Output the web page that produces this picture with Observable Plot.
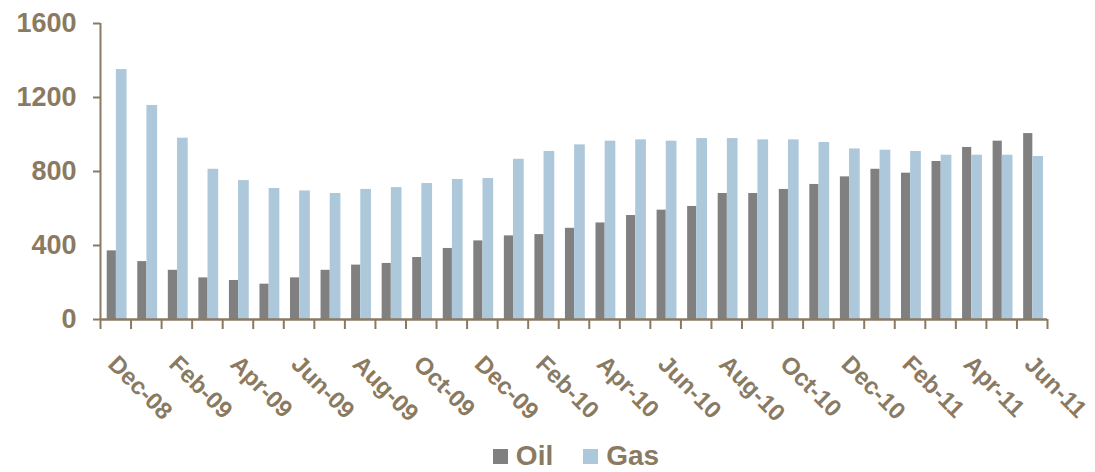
<!DOCTYPE html>
<html>
<head>
<meta charset="utf-8">
<script src="https://cdn.jsdelivr.net/npm/d3@7"></script>
<script src="https://cdn.jsdelivr.net/npm/@observablehq/plot@0.6"></script>
<style>
  html, body { margin: 0; padding: 0; background: #fff; }
  body { width: 1095px; height: 472px; overflow: hidden; font-family: "Liberation Sans", Arial, sans-serif; }
  #legend { display: flex; justify-content: center; align-items: center; height: 32px; padding-left: 57px; gap: 30px; color: #8a7a62; font-weight: bold; font-size: 28px; }
  #legend .item { display: flex; align-items: center; gap: 8px; }
  #legend .sw { width: 15px; height: 15px; display: inline-block; }
</style>
</head>
<body>
<div id="chart"></div>
<div id="legend"></div>
<script>
const months = ["Dec-08","Jan-09","Feb-09","Mar-09","Apr-09","May-09","Jun-09","Jul-09","Aug-09","Sep-09","Oct-09","Nov-09","Dec-09","Jan-10","Feb-10","Mar-10","Apr-10","May-10","Jun-10","Jul-10","Aug-10","Sep-10","Oct-10","Nov-10","Dec-10","Jan-11","Feb-11","Mar-11","Apr-11","May-11","Jun-11"];
const oil = [371,313,266,225,211,191,225,266,294,303,335,384,425,452,459,493,522,562,591,611,681,681,703,730,771,812,791,854,930,964,1005];
const gas = [1351,1157,980,812,751,708,695,681,703,713,735,757,762,866,908,944,964,971,964,978,978,971,971,957,922,915,908,888,888,888,881];
const yTicks = [0,400,800,1200,1600];
const seriesNames = ["Oil","Gas"];
const seriesColors = ["#808080","#adc8da"];
const brown = "#8a7a62";

const data = months.map((m, i) => ({m, i, oil: oil[i], gas: gas[i]}));

const chart = Plot.plot({
  width: 1095,
  height: 440,
  marginLeft: 100,
  marginRight: 48,
  marginTop: 23,
  marginBottom: 121,
  style: {fontFamily: '"Liberation Sans", Arial, sans-serif', background: "#fff", overflow: "visible"},
  x: {type: "linear", domain: [0, months.length], axis: null},
  y: {domain: [0, 1600], axis: null},
  marks: [
    Plot.rectY(data, {x1: d => d.i + 0.22, x2: d => d.i + 0.52, y: "oil", fill: seriesColors[0]}),
    Plot.rectY(data, {x1: d => d.i + 0.52, x2: d => d.i + 0.87, y: "gas", fill: seriesColors[1]}),
    Plot.axisY({ticks: yTicks, tickFormat: d => String(d), tickSize: 7, tickPadding: 17, stroke: brown, strokeWidth: 2, fontSize: 27, fontWeight: "bold", fill: brown, label: null}),
    Plot.axisX({ticks: d3.range(months.length + 1), tickSize: 10, tickFormat: () => "", stroke: brown, strokeWidth: 2, label: null}),
    Plot.ruleX([0], {stroke: brown, strokeWidth: 2}),
    Plot.ruleY([0], {stroke: brown, strokeWidth: 2.5}),
    Plot.text(data.filter(d => d.i % 2 === 0), {
      x: d => d.i + 0.5, frameAnchor: "bottom", text: "m",
      rotate: 45, textAnchor: "start", lineAnchor: "bottom",
      dx: -9, dy: 46, fontSize: 24, fontWeight: "bold", fill: brown
    })
  ]
});
document.getElementById("chart").appendChild(chart);

const legend = document.getElementById("legend");
seriesNames.forEach((name, k) => {
  const item = document.createElement("span");
  item.className = "item";
  const sw = document.createElement("span");
  sw.className = "sw";
  sw.style.background = seriesColors[k];
  item.appendChild(sw);
  item.appendChild(document.createTextNode(name));
  legend.appendChild(item);
});
</script>
</body>
</html>
